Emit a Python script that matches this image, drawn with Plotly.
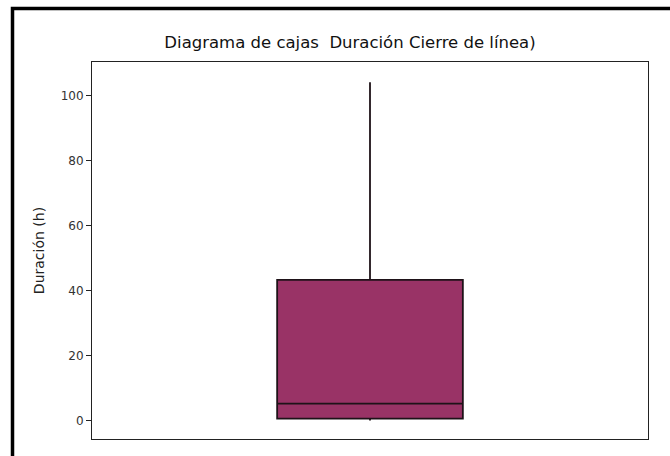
import plotly.graph_objects as go

# Data
categories = ["Cierre de línea"]
lower_fence = [0.0]
q1 = [0.6]
median = [5.2]
q3 = [43.3]
upper_fence = [104.2]
tick_vals = [0, 20, 40, 60, 80, 100]

fig = go.Figure()
fig.add_trace(go.Box(
    x=[0],
    q1=q1, median=median, q3=q3,
    lowerfence=lower_fence, upperfence=upper_fence,
    name=categories[0],
    fillcolor="#993366",
    line=dict(color="#1e1218", width=1.8),
    width=0.334,
    whiskerwidth=0,
    boxpoints=False,
    hoverinfo="y",
))

L, R, T, B = 92, 22, 62, 16.5
W, H = 670, 456
pw = W - L - R
ph = H - T - B

def px_x(px):
    return (px - L) / pw

def px_y(py):
    return (H - B - py) / ph

fig.update_layout(
    width=W, height=H,
    margin=dict(l=L, r=R, t=T, b=B),
    paper_bgcolor="white",
    plot_bgcolor="white",
    showlegend=False,
    font=dict(family="DejaVu Sans", color="#222222"),
    title=dict(
        text="Diagrama de cajas  Duración Cierre de línea)",
        x=350 / W, xref="container", xanchor="center",
        y=1 - 42 / H, yref="container", yanchor="middle",
        font=dict(size=16.5, color="#111111", family="DejaVu Sans"),
    ),
    xaxis=dict(
        range=[-0.5, 0.5],
        showticklabels=False,
        ticks="",
        showgrid=False,
        zeroline=False,
        showline=True, mirror=True, linecolor="#222222", linewidth=1,
    ),
    yaxis=dict(
        range=[-5.7, 110.4],
        tickvals=tick_vals,
        ticks="outside", ticklen=5, tickcolor="#222222",
        tickfont=dict(size=12, color="#333333"),
        showgrid=False,
        zeroline=False,
        showline=True, mirror=True, linecolor="#222222", linewidth=1,
        title=dict(text="Duración (h)", font=dict(size=14, color="#222222"), standoff=12),
    ),
    shapes=[dict(
        type="rect", xref="paper", yref="paper",
        x0=px_x(12.5), x1=px_x(720),
        y0=px_y(520), y1=px_y(8.5),
        line=dict(color="black", width=3.5),
        fillcolor="rgba(0,0,0,0)",
        layer="above",
    )],
)

fig.write_html(
    "out.html",
    config={"displayModeBar": False},
    post_script="document.body.style.margin='0';document.body.style.overflow='hidden';",
)
